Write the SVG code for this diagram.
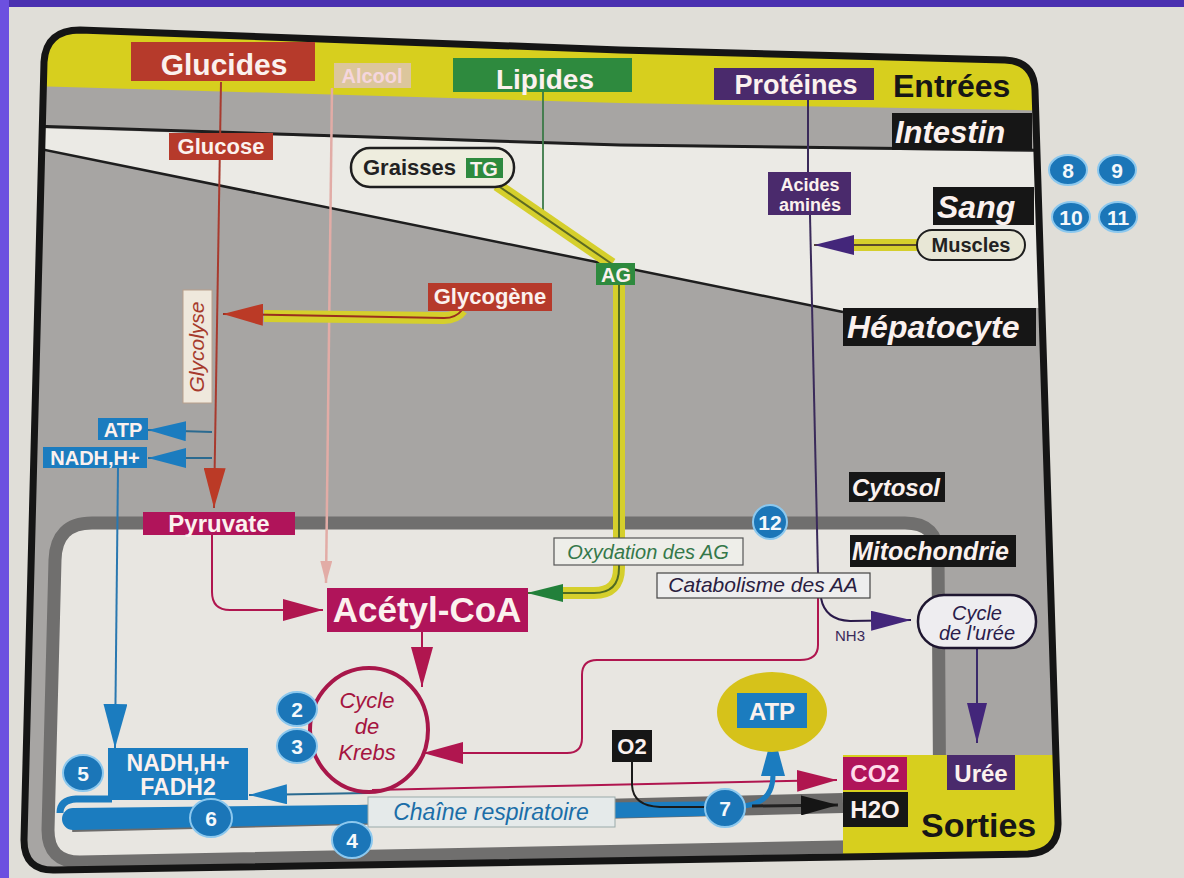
<svg xmlns="http://www.w3.org/2000/svg" width="1184" height="878" viewBox="0 0 1184 878">
<style>
text{font-family:"Liberation Sans",Arial,Helvetica,sans-serif}
.b{font-weight:bold}
.i{font-style:italic}
.w{fill:#fbf1ee}
.c{text-anchor:middle}
.lab{fill:#161616}
.red{fill:#b63a2b}
.grn{fill:#2e8a3e}
.pur{fill:#4a2a6c}
.mag{fill:#b0145a}
.blu{fill:#1b7cbf}
.num{fill:#1b76b8;stroke:#8cc8ee;stroke-width:2}
.numt{font-family:"Liberation Sans",Arial,sans-serif;font-weight:bold;font-size:21px;fill:#f4f8fb;text-anchor:middle}
.ln{fill:none}
.yel{fill:none;stroke:#d5cf2c;stroke-width:12;stroke-linecap:butt}
</style>
<defs>
<clipPath id="inside">
<path d="M 44,62 Q 46,30 80,30 L 620,50 L 1005,60 Q 1034,61 1035,90 L 1058,822 Q 1059,852 1028,854 L 55,870 Q 24,871 24,840 Z"/>
</clipPath>
<marker id="mRed" viewBox="0 0 40 22" refX="40" refY="11" markerWidth="40" markerHeight="22" markerUnits="userSpaceOnUse" orient="auto"><path d="M0,0 L40,11 L0,22 Z" fill="#bb3a26"/></marker>
<marker id="mBlue" viewBox="0 0 38 20" refX="38" refY="10" markerWidth="38" markerHeight="20" markerUnits="userSpaceOnUse" orient="auto"><path d="M0,0 L38,10 L0,20 Z" fill="#1b7cbf"/></marker>
<marker id="mBlueL" viewBox="0 0 44 24" refX="44" refY="12" markerWidth="44" markerHeight="24" markerUnits="userSpaceOnUse" orient="auto"><path d="M0,0 L44,12 L0,24 Z" fill="#1b7cbf"/></marker>
<marker id="mMag" viewBox="0 0 40 22" refX="40" refY="11" markerWidth="40" markerHeight="22" markerUnits="userSpaceOnUse" orient="auto"><path d="M0,0 L40,11 L0,22 Z" fill="#b0164f"/></marker>
<marker id="mPink" viewBox="0 0 22 12" refX="22" refY="6" markerWidth="22" markerHeight="12" markerUnits="userSpaceOnUse" orient="auto"><path d="M0,0 L22,6 L0,12 Z" fill="#e2aca6"/></marker>
<marker id="mGreen" viewBox="0 0 36 18" refX="36" refY="9" markerWidth="36" markerHeight="18" markerUnits="userSpaceOnUse" orient="auto"><path d="M0,0 L36,9 L0,18 Z" fill="#22803a"/></marker>
<marker id="mPur" viewBox="0 0 40 20" refX="40" refY="10" markerWidth="40" markerHeight="20" markerUnits="userSpaceOnUse" orient="auto"><path d="M0,0 L40,10 L0,20 Z" fill="#43267a"/></marker>
<marker id="mBlack" viewBox="0 0 37 20" refX="37" refY="10" markerWidth="37" markerHeight="20" markerUnits="userSpaceOnUse" orient="auto"><path d="M0,0 L37,10 L0,20 Z" fill="#151515"/></marker>
</defs>

<!-- page -->
<rect x="0" y="0" width="1184" height="878" fill="#e0ded8"/>
<rect x="0" y="0" width="1184" height="7" fill="#4a30b0"/>
<rect x="0" y="0" width="9" height="878" fill="#6c50e0"/>

<!-- zones -->
<g id="zones" clip-path="url(#inside)">
<rect x="0" y="0" width="1184" height="878" fill="#a7a5a3"/>
<path d="M0,0 H1184 V113 L620,103 L0,85 Z" fill="#d7cf1e"/>
<path d="M0,127 L620,146 L1184,154 V308 H843 V312 L45,150 L0,141 Z" fill="#ebeae5"/>
<path d="M0,125 L620,145 L1184,152" fill="none" stroke="#1e1e1e" stroke-width="3"/>
<path d="M30,147 L843,312" fill="none" stroke="#1e1e1e" stroke-width="2.5"/>
<path d="M 55,560 Q 56,523 92,523 L 905,523 Q 938,523 938,556 L 940,845 L 80,862 Q 48,862 48,830 Z" fill="#e8e6e1" stroke="#706f6e" stroke-width="13"/>
<path d="M 72,822 L 843,803" fill="none" stroke="#6c6b6a" stroke-width="20"/>
<path d="M 843,755 H 1184 V 900 H 843 Z" fill="#d7cf1e"/>
</g>
<path id="frame" d="M 44,62 Q 46,30 80,30 L 620,50 L 1005,60 Q 1034,61 1035,90 L 1058,822 Q 1059,852 1028,854 L 55,870 Q 24,871 24,840 Z" fill="none" stroke="#151515" stroke-width="7"/>

<!-- connectors -->
<g id="connectors">
<path d="M221,82 L214,508" class="ln" stroke="#a83a2e" stroke-width="2" marker-end="url(#mRed)"/>
<path d="M332,88 L326,583" class="ln" stroke="#e2aca6" stroke-width="2.5" marker-end="url(#mPink)"/>
<path d="M543,92 L543,216" class="ln" stroke="#3c7a48" stroke-width="1.8"/>
<path d="M808,100 L808,172" class="ln" stroke="#3a2a5a" stroke-width="2"/>
<path d="M810,215 L818,573" class="ln" stroke="#3a2a5a" stroke-width="2"/>
<!-- TG to AG -->
<path d="M497,185 L612,264" class="yel"/>
<path d="M497,185 L612,264" class="ln" stroke="#5d6a22" stroke-width="2"/>
<path d="M619,284 L619,568 Q619,593 594,593 L563,593" class="yel"/>
<path d="M619,284 L619,568 Q619,593 594,593 L527,593" class="ln" stroke="#4f6a22" stroke-width="2" marker-end="url(#mGreen)"/>
<!-- Glycogene -->
<path d="M462,310 Q456,318 444,318 L264,316" class="yel" stroke-width="11"/>
<path d="M462,310 Q456,318 444,318 L223,314" class="ln" stroke="#9a2e1e" stroke-width="2" marker-end="url(#mRed)"/>
<!-- Muscles -->
<path d="M917,245 L853,245" class="yel" stroke-width="10"/>
<path d="M917,245 L814,245" class="ln" stroke="#5a4a2a" stroke-width="2" marker-end="url(#mPur)"/>
<!-- glycolyse products -->
<path d="M212,432 L148,430" class="ln" stroke="#2a6a90" stroke-width="2" marker-end="url(#mBlue)"/>
<path d="M212,458 L148,458" class="ln" stroke="#2a6a90" stroke-width="2" marker-end="url(#mBlue)"/>
<path d="M118,468 L115,748" class="ln" stroke="#2a78b0" stroke-width="2" marker-end="url(#mBlueL)"/>
<!-- pyruvate -> acetyl -->
<path d="M212,535 L212,592 Q212,610 230,610 L323,610" class="ln" stroke="#b0164f" stroke-width="2" marker-end="url(#mMag)"/>
<path d="M422,632 L422,687" class="ln" stroke="#b0164f" stroke-width="2" marker-end="url(#mMag)"/>
<!-- catabolisme -> krebs -->
<path d="M818,597 L818,645 Q818,660 800,660 L597,660 Q582,660 582,675 L582,738 Q582,753 567,753 L423,753" class="ln" stroke="#b0164f" stroke-width="2" marker-end="url(#mMag)"/>
<!-- NH3 -->
<path d="M821,598 Q825,620 850,621 L911,620" class="ln" stroke="#2a1a4a" stroke-width="2" marker-end="url(#mPur)"/>
<path d="M977,648 L977,743" class="ln" stroke="#3a2a6a" stroke-width="2" marker-end="url(#mPur)"/>
<!-- krebs outputs -->
<path d="M372,790 L837,780" class="ln" stroke="#b0164f" stroke-width="2" marker-end="url(#mMag)"/>
<path d="M368,793 L249,795" class="ln" stroke="#2a6a90" stroke-width="2" marker-end="url(#mBlue)"/>
<!-- respiratory chain -->
<path d="M 112,799 L 76,799 Q 60,800 60,813" class="ln" stroke="#1b7cbf" stroke-width="7"/>
<path d="M 73,808 L 745,801 L 745,815 L 73,830 A 11 11 0 0 1 73,808 Z" fill="#1b7cbf"/>
<path d="M632,762 L632,785 Q633,806 660,807 L705,807" class="ln" stroke="#1a1a1a" stroke-width="2"/>
<path d="M740,806 Q773,805 773,775 L773,732" class="ln" stroke="#1b7cbf" stroke-width="5" marker-end="url(#mBlueL)"/>
<path d="M752,806 L838,805" class="ln" stroke="#222" stroke-width="3" marker-end="url(#mBlack)"/>
</g>

<!-- nodes -->
<g id="glucides"><rect x="131" y="42" width="184" height="39" class="red"/><text x="224" y="75" class="b c w" font-size="30">Glucides</text></g>
<g id="alcool"><rect x="334" y="63" width="77" height="25" fill="#dcc69c"/><text x="372" y="83" class="b c" font-size="20" fill="#f5d6de">Alcool</text></g>
<g id="lipides"><rect x="453" y="58" width="179" height="34" class="grn"/><text x="545" y="89" class="b c w" font-size="28">Lipides</text></g>
<g id="proteines"><rect x="714" y="68" width="160" height="32" class="pur"/><text x="796" y="94" class="b c w" font-size="27">Protéines</text></g>
<g id="entrees"><text x="893" y="97" class="b lab" font-size="32">Entrées</text></g>
<g id="intestin"><rect x="892" y="113" width="140" height="37" fill="#161616"/><text x="895" y="143" class="b i w" font-size="31">Intestin</text></g>
<g id="glucose"><rect x="169" y="133" width="104" height="27" class="red"/><text x="221" y="154" class="b c w" font-size="22">Glucose</text></g>
<g id="graisses"><rect x="351" y="148" width="163" height="39" rx="19" fill="#eeedde" stroke="#1e1e1e" stroke-width="2.5"/><text x="363" y="175" class="b" font-size="22" fill="#222">Graisses</text><rect x="466" y="158" width="37" height="20" class="grn"/><text x="484" y="176" class="b c w" font-size="20">TG</text></g>
<g id="acides-amines"><rect x="768" y="172" width="83" height="43" class="pur"/><text x="810" y="191" class="b c w" font-size="18">Acides</text><text x="810" y="211" class="b c w" font-size="18">aminés</text></g>
<g id="sang"><rect x="933" y="187" width="101" height="38" fill="#161616"/><text x="937" y="218" class="b i w" font-size="32">Sang</text></g>
<g id="muscles"><rect x="917" y="230" width="108" height="30" rx="15" fill="#e8e7d6" stroke="#1e1e1e" stroke-width="2"/><text x="971" y="252" class="b c" font-size="20" fill="#222">Muscles</text></g>
<g id="n8"><ellipse cx="1068" cy="170" rx="19" ry="15" class="num"/><text x="1068" y="178" class="numt">8</text></g>
<g id="n9"><ellipse cx="1117" cy="170" rx="19" ry="15" class="num"/><text x="1117" y="178" class="numt">9</text></g>
<g id="n10"><ellipse cx="1071" cy="217" rx="19" ry="15" class="num"/><text x="1071" y="225" class="numt">10</text></g>
<g id="n11"><ellipse cx="1118" cy="217" rx="19" ry="15" class="num"/><text x="1118" y="225" class="numt">11</text></g>
<g id="ag"><rect x="596" y="263" width="39" height="22" class="grn"/><text x="616" y="282" class="b c w" font-size="20">AG</text></g>
<g id="glycogene"><rect x="428" y="283" width="124" height="28" class="red"/><text x="490" y="304" class="b c w" font-size="22">Glycogène</text></g>
<g id="hepatocyte"><rect x="843" y="308" width="193" height="38" fill="#161616"/><text x="847" y="338" class="b i w" font-size="32">Hépatocyte</text></g>
<g id="glycolyse"><rect x="183" y="290" width="29" height="113" fill="#efe8dc" stroke="#b9a08c" stroke-width="1"/><text transform="translate(204,347) rotate(-90)" class="i c" font-size="21" fill="#a63a2c">Glycolyse</text></g>
<g id="atp1"><rect x="98" y="418" width="50" height="22" class="blu"/><text x="123" y="437" class="b c w" font-size="20">ATP</text></g>
<g id="nadh1"><rect x="43" y="447" width="104" height="21" class="blu"/><text x="95" y="465" class="b c w" font-size="20">NADH,H+</text></g>
<g id="cytosol"><rect x="849" y="472" width="96" height="30" fill="#161616"/><text x="852" y="496" class="b i w" font-size="24">Cytosol</text></g>
<g id="pyruvate"><rect x="143" y="512" width="152" height="23" class="mag"/><text x="219" y="532" class="b c w" font-size="24">Pyruvate</text></g>
<g id="n12"><circle cx="770" cy="522" r="17" class="num"/><text x="770" y="530" class="numt">12</text></g>
<g id="mitochondrie"><rect x="850" y="535" width="166" height="32" fill="#161616"/><text x="852" y="560" class="b i w" font-size="25">Mitochondrie</text></g>
<g id="oxydation"><rect x="554" y="538" width="189" height="27" fill="#eeeee9" stroke="#555" stroke-width="1.2"/><text x="648" y="559" class="i c" font-size="20" fill="#35784a">Oxydation des AG</text></g>
<g id="catabolisme"><rect x="657" y="573" width="213" height="25" fill="#eeeeee" stroke="#444" stroke-width="1.2"/><text x="763" y="592" class="i c" font-size="21" fill="#2a2040">Catabolisme des AA</text></g>
<g id="acetyl-coa"><rect x="327" y="588" width="201" height="44" class="mag"/><text x="427" y="622" class="b c w" font-size="35">Acétyl-CoA</text></g>
<g id="nh3"><text x="835" y="641" font-size="15" fill="#3a2a5a">NH3</text></g>
<g id="cycle-uree"><rect x="918" y="595" width="118" height="53" rx="26" fill="#eeedf0" stroke="#1e1630" stroke-width="2.5"/><text x="977" y="620" class="i c" font-size="20" fill="#2a1c4a">Cycle</text><text x="977" y="640" class="i c" font-size="20" fill="#2a1c4a">de l'urée</text></g>
<g id="krebs"><ellipse cx="369" cy="730" rx="59" ry="62" fill="none" stroke="#a8174a" stroke-width="4"/><text x="367" y="708" class="i c" font-size="22" fill="#a5143f">Cycle</text><text x="367" y="734" class="i c" font-size="22" fill="#a5143f">de</text><text x="367" y="760" class="i c" font-size="22" fill="#a5143f">Krebs</text></g>
<g id="n2"><ellipse cx="297" cy="709" rx="20" ry="17" class="num"/><text x="297" y="717" class="numt" font-size="22">2</text></g>
<g id="n3"><ellipse cx="297" cy="746" rx="20" ry="17" class="num"/><text x="297" y="754" class="numt" font-size="22">3</text></g>
<g id="atp2"><ellipse cx="772" cy="712" rx="55" ry="40" fill="#d6c21a"/><rect x="737" y="693" width="70" height="35" class="blu"/><text x="772" y="720" class="b c w" font-size="24">ATP</text></g>
<g id="o2"><rect x="612" y="730" width="40" height="32" fill="#161616"/><text x="632" y="754" class="b c w" font-size="22">O2</text></g>
<g id="nadh-fadh2"><rect x="108" y="748" width="140" height="52" class="blu"/><text x="178" y="771" class="b c w" font-size="23">NADH,H+</text><text x="178" y="795" class="b c w" font-size="23">FADH2</text></g>
<g id="n5"><ellipse cx="83" cy="773" rx="20" ry="18" class="num"/><text x="83" y="781" class="numt" font-size="22">5</text></g>
<g id="chaine"><rect x="368" y="797" width="247" height="30" fill="#e5eaea" stroke="#9aa" stroke-width="1"/><text x="491" y="820" class="i c" font-size="23" fill="#1b6ea8">Chaîne respiratoire</text></g>
<g id="n6"><ellipse cx="211" cy="818" rx="21" ry="19" class="num"/><text x="211" y="826" class="numt" font-size="22">6</text></g>
<g id="n4"><ellipse cx="352" cy="840" rx="20" ry="18" class="num"/><text x="352" y="848" class="numt" font-size="22">4</text></g>
<g id="n7"><ellipse cx="725" cy="808" rx="20" ry="19" class="num"/><text x="725" y="816" class="numt" font-size="22">7</text></g>
<g id="co2"><rect x="843" y="757" width="64" height="33" class="mag"/><text x="875" y="782" class="b c" font-size="24" fill="#ffdcea">CO2</text></g>
<g id="h2o"><rect x="843" y="792" width="65" height="35" fill="#161616"/><text x="875" y="818" class="b c w" font-size="24">H2O</text></g>
<g id="uree"><rect x="947" y="755" width="68" height="35" class="pur"/><text x="981" y="782" class="b c w" font-size="24">Urée</text></g>
<g id="sorties"><text x="921" y="837" class="b lab" font-size="34">Sorties</text></g>
</svg>
